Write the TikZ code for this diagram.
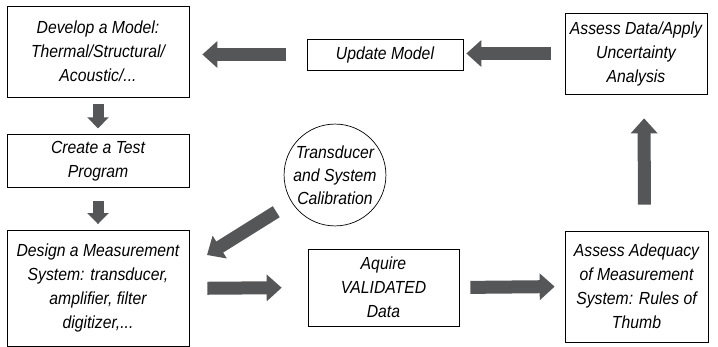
\documentclass[tikz,border=0pt]{standalone}
\usepackage{fontspec}
\setmainfont{Liberation Sans}[FakeStretch=0.9]
\usetikzlibrary{positioning,arrows.meta}
\definecolor{arrowgray}{RGB}{85,86,88}

\begin{document}
\begin{tikzpicture}[x=1pt,y=-1pt,node distance=37pt,
    font=\fontsize{17.5}{24}\selectfont\itshape,
    stage/.style={draw,line width=0.7pt,align=center,inner sep=0pt},
    big arrow/.style={draw=arrowgray,line width=13pt,
                      -{Triangle[length=15pt,width=26pt]}},
    small arrow/.style={draw=arrowgray,line width=11pt,
                        -{Triangle[length=11pt,width=21pt]}}]

  \useasboundingbox (0,0) rectangle (718,347);

  \node[stage,minimum width=182pt,minimum height=91pt] (dev) at (98,51.5)
    {Develop a Model:\\Thermal/Structural/\\Acoustic/...};
  \node[stage,minimum width=182pt,minimum height=53pt] (test) [below=of dev]
    {Create a Test\\Program};
  \node[stage,minimum width=182pt,minimum height=116pt] (design) [below=42pt of test]
    {Design a Measurement\\System: transducer,\\amplifier, filter\\digitizer,...};
  \node[stage,minimum width=156pt,minimum height=31pt] (upd) at (385,54.5)
    {Update Model};
  \node[stage,minimum width=142pt,minimum height=81pt] (assess) at (636,53.5)
    {Assess Data/Apply\\Uncertainty\\Analysis};
  \node[stage,minimum width=151pt,minimum height=77pt] (acq) at (383.5,287.5)
    {Aquire\\VALIDATED\\Data};
  \node[stage,minimum width=143pt,minimum height=111pt] (adeq) at (636.5,286.5)
    {Assess Adequacy\\of Measurement\\System: Rules of\\Thumb};
  \node[draw,circle,line width=0.7pt,minimum size=94pt,inner sep=0pt,align=center,
        font=\fontsize{17.5}{23}\selectfont\itshape] (cal) at (335,175)
    {Transducer\\and System\\Calibration};

  \coordinate (calin) at (207,255);

  \path
    (upd.west) edge[big arrow,shorten <=21pt,shorten >=13pt] (upd.west -| dev.east)
    (assess.west) edge[big arrow,shorten <=14pt,shorten >=3pt] (upd.east |- assess.west)
    (dev.south) edge[small arrow,shorten <=7pt,shorten >=6pt] (test.north)
    (test.south) edge[small arrow,shorten <=13pt,shorten >=6pt] (design.north)
    (design.east) edge[big arrow,shorten <=18pt,shorten >=26pt] (acq.west)
    (acq.east) edge[big arrow,shorten <=11pt,shorten >=10pt] (adeq.west)
    ([xshift=8pt]adeq.north) edge[big arrow,shorten <=26pt,shorten >=24pt] ([xshift=8pt]assess.south)
    (cal) edge[big arrow,shorten <=18pt] (calin);
\end{tikzpicture}
\end{document}
